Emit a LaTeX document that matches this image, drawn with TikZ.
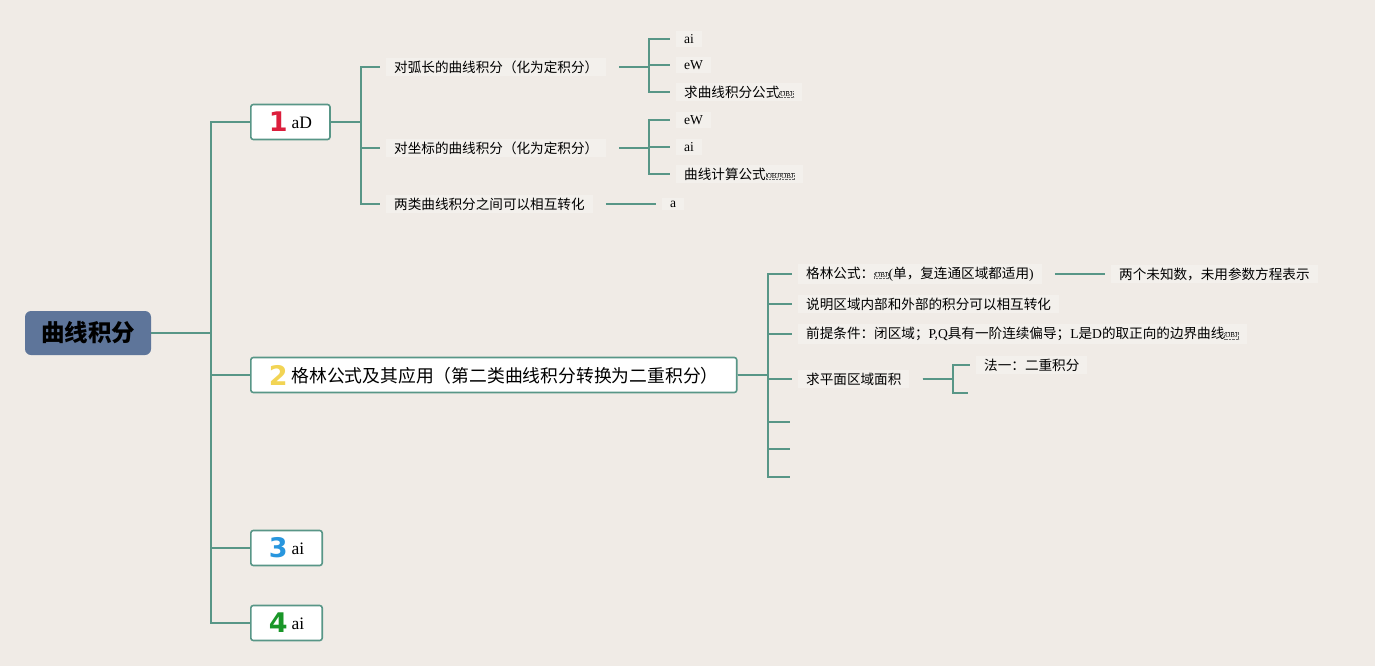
\documentclass[tikz,border=0pt]{standalone}
\usepackage{fontspec}
\setmainfont{Liberation Serif}
\newfontfamily\cjk{Noto Sans CJK SC}
\newfontfamily\numfont{DejaVu Sans}

\definecolor{bgcol}{RGB}{240,235,230}
\definecolor{leafbg}{RGB}{243,240,236}
\definecolor{linkcol}{RGB}{88,150,135}
\definecolor{rootcol}{RGB}{94,117,154}
\definecolor{numred}{RGB}{220,30,60}
\definecolor{numyellow}{RGB}{242,212,84}
\definecolor{numblue}{RGB}{40,150,222}
\definecolor{numgreen}{RGB}{25,150,40}

% latin words inside chinese text
\newcommand\lat[1]{{\rmfamily #1}}
% coloured priority digit in front of a topic
\newcommand\numbadge[3]{{\numfont\bfseries\fontsize{27}{27}\selectfont\color{#1}#2}\hspace{4pt}\raisebox{3pt}{#3}}
% object placeholder box
\newcommand\objbox{\tikz[baseline=-0.4ex]\node[draw=black!60, fill=none, densely dotted, line width=0.4pt, anchor=center, inner sep=0.8pt, font=\rmfamily\fontsize{7}{7}\selectfont]{OBJ};}

\begin{document}
\begin{tikzpicture}[
  x=1pt, y=-1pt,
  root/.style={rectangle, fill=rootcol, rounded corners=6pt, minimum width=126pt, minimum height=44pt, font=\cjk\bfseries\fontsize{23.5}{28}\selectfont},
  topic/.style={rectangle, draw=linkcol, fill=white, line width=1.6pt, rounded corners=2.5pt, minimum height=35pt, inner xsep=18pt, anchor=west, font=\fontsize{17.5}{21}\selectfont},
  leaf/.style={rectangle, fill=leafbg, inner xsep=8pt, inner ysep=3pt, anchor=west, font=\cjk\fontsize{13.6}{16}\selectfont},
  link/.style={draw=linkcol, line width=2pt},
  toleaf/.style={shorten >=6pt},
  fromleaf/.style={shorten <=13pt}
]

% Background
\useasboundingbox (0,0) rectangle (1375,666);
\fill[bgcol] (0,0) rectangle (1375,666);

% Root
\node (root) [root] at (88,333) {曲线积分};

% Main topics
\node (t1) [topic] at (250,122) {\numbadge{numred}{1}{\lat{aD}}};
\node (t2) [topic] at (250,375) {\numbadge{numyellow}{2}{\cjk\fontsize{17.8}{21}\selectfont 格林公式及其应用（第二类曲线积分转换为二重积分）}};
\node (t3) [topic] at (250,548) {\numbadge{numblue}{3}{\lat{ai}}};
\node (t4) [topic] at (250,623) {\numbadge{numgreen}{4}{\lat{ai}}};

% Topic 1
\node (a1) [leaf] at (386,67) {对弧长的曲线积分（化为定积分）};
\node (a2) [leaf] at (386,148) {对坐标的曲线积分（化为定积分）};
\node (a3) [leaf] at (386,204) {两类曲线积分之间可以相互转化};
\node (a11) [leaf] at (676,39) {\lat{ai}};
\node (a12) [leaf] at (676,65) {\lat{eW}};
\node (a13) [leaf] at (676,92) {求曲线积分公式\objbox};
\node (a21) [leaf] at (676,120) {\lat{eW}};
\node (a22) [leaf] at (676,147) {\lat{ai}};
\node (a23) [leaf] at (676,174) {曲线计算公式\objbox\objbox};
\node (a31) [leaf] at (662,204) {\lat{a}};

% Topic 2
\node (b1) [leaf] at (798,274) {格林公式：\objbox\lat{(}单，复连通区域都适用\lat{)}};
\node (b2) [leaf] at (798,304) {说明区域内部和外部的积分可以相互转化};
\node (b3) [leaf] at (798,334) {前提条件：闭区域；\lat{P,Q}具有一阶连续偏导；\lat{L}是\lat{D}的取正向的边界曲线\objbox};
\node (b4) [leaf] at (798,379) {求平面区域面积};
\coordinate (b5) at (790,422);
\coordinate (b6) at (790,449);
\coordinate (b7) at (790,477);
\node (b11) [leaf] at (1111,274) {两个未知数，未用参数方程表示};
\node (b41) [leaf] at (976,365) {法一：二重积分};
\coordinate (b42) at (968,393);

% Connectors
\foreach \t in {t1,t2,t3,t4}
  \draw[link] (root.east) -- ++(60,0) |- (\t.west);

\foreach \c in {a1,a2,a3}
  \draw[link, toleaf] (t1.east) -- ++(30,0) |- (\c.west);
\foreach \c in {a11,a12,a13}
  \draw[link, fromleaf, toleaf] (a1.east) -- ++(43,0) |- (\c.west);
\foreach \c in {a21,a22,a23}
  \draw[link, fromleaf, toleaf] (a2.east) -- ++(43,0) |- (\c.west);
\draw[link, fromleaf, toleaf] (a3.east) -- (a31.west);

\foreach \c in {b1,b2,b3,b4}
  \draw[link, toleaf] (t2.east) -- ++(30,0) |- (\c.west);
\foreach \c in {b5,b6,b7}
  \draw[link] (t2.east) -- ++(30,0) |- (\c);
\draw[link, fromleaf, toleaf] (b1.east) -- (b11.west);
\draw[link, fromleaf, toleaf] (b4.east) -- ++(43,0) |- (b41.west);
\draw[link, fromleaf] (b4.east) -- ++(43,0) |- (b42);
\end{tikzpicture}
\end{document}
